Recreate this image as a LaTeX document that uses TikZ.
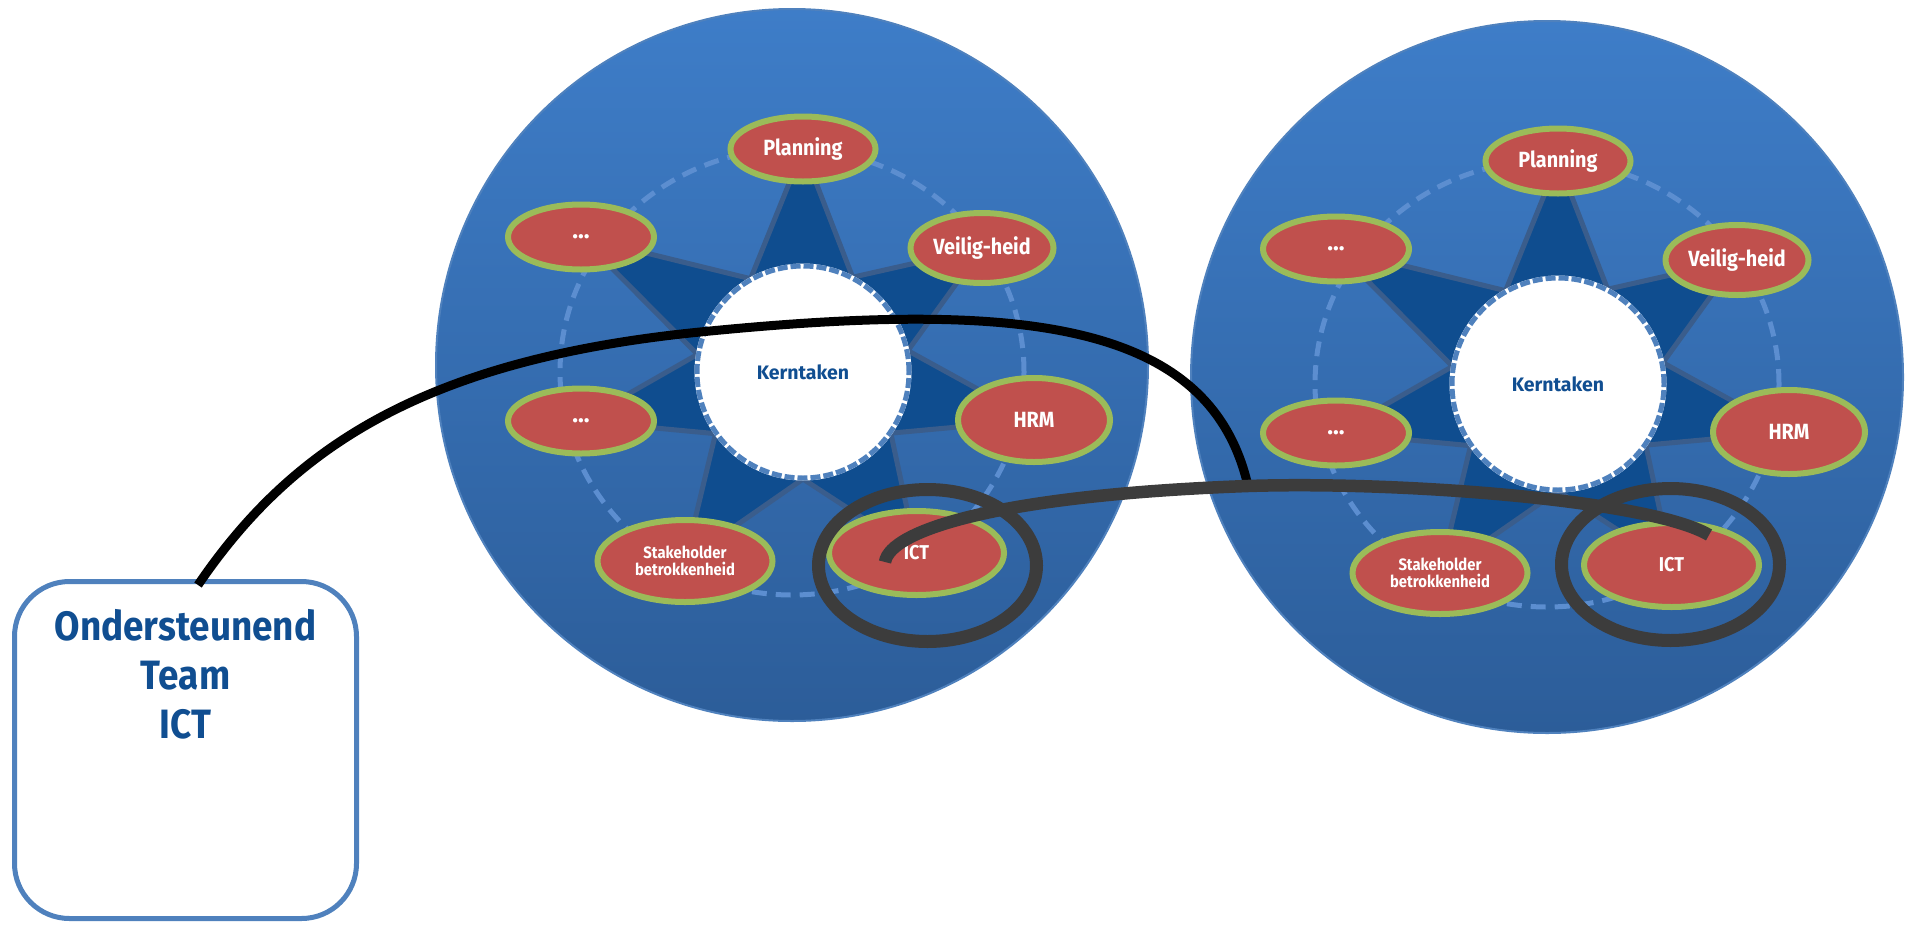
\documentclass[tikz,border=0pt]{standalone}
\usepackage{fontspec}
\newfontfamily\fira{Fira Sans}
\newfontfamily\firac[FakeStretch=0.9]{Fira Sans}
\usetikzlibrary{shapes.geometric,calc}
\definecolor{bigtop}{RGB}{62,125,200}
\definecolor{bigbot}{RGB}{44,93,153}
\definecolor{discedge}{RGB}{79,129,189}
\definecolor{starfill}{RGB}{15,77,143}
\definecolor{staredge}{RGB}{58,93,140}
\definecolor{ringc}{RGB}{92,142,208}
\definecolor{redf}{RGB}{192,80,77}
\definecolor{greenb}{RGB}{155,187,89}
\definecolor{kernedge}{RGB}{79,129,189}
\definecolor{darkblue}{RGB}{16,78,145}
\definecolor{boxedge}{RGB}{79,129,189}
\definecolor{grayc}{RGB}{60,60,60}

\newcommand\mywheel[3]{%
  \node[disc] (#1-disc) at ({792+#2},{365+#3}) {};
  \draw[ringst] ({792+#2},{372+#3}) ellipse [x radius=232pt, y radius=223pt];
  \coordinate (#1-kc) at ({803+#2},{372+#3});
  \coordinate (#1-p1) at ({803+#2},{149+#3});
  \coordinate (#1-p2) at ({982+#2},{248+#3});
  \coordinate (#1-p3) at ({1034+#2},{420+#3});
  \coordinate (#1-p4) at ({916.5+#2},{553+#3});
  \coordinate (#1-p5) at ({685+#2},{561+#3});
  \coordinate (#1-p6) at ({581+#2},{421+#3});
  \coordinate (#1-p7) at ({581+#2},{237+#3});
  \filldraw[starst] (#1-p1) -- ($(#1-kc)+(62.35:107pt)$) -- (#1-p2)
    -- ($(#1-kc)+(11.5:107pt)$) -- (#1-p3) -- ($(#1-kc)+(-34.85:107pt)$)
    -- (#1-p4) -- ($(#1-kc)+(-90:107pt)$) -- (#1-p5)
    -- ($(#1-kc)+(-144.8:107pt)$) -- (#1-p6) -- ($(#1-kc)+(170.55:107pt)$)
    -- (#1-p7) -- ($(#1-kc)+(119.35:107pt)$) -- cycle;
  \node[lab, minimum width=145pt, minimum height=65pt] (#1-plan) at (#1-p1) {Planning};
  \node[lab, minimum width=143pt, minimum height=70pt] (#1-veil) at (#1-p2) {Veilig-heid};
  \node[lab, minimum width=152pt, minimum height=84pt] (#1-hrm) at (#1-p3) {HRM};
  \node[lab, minimum width=175pt, minimum height=84pt, font=\firac\bfseries\fontsize{20}{22}\selectfont] (#1-ict) at (#1-p4) {ICT};
  \node[lab, minimum width=175pt, minimum height=82pt, font=\firac\bfseries\fontsize{16.5}{17.5}\selectfont] (#1-stake) at (#1-p5) {Stakeholder\\betrokkenheid};
  \node[lab, minimum width=146pt, minimum height=65pt, font=\fira\bfseries\fontsize{24}{24}\selectfont] (#1-dotsl) at (#1-p6) {...};
  \node[lab, minimum width=146pt, minimum height=65pt, font=\fira\bfseries\fontsize{24}{24}\selectfont] (#1-dotsu) at (#1-p7) {...};
  \node[kern] (#1-ker) at (#1-kc) {Kerntaken};
}

\begin{document}
\begin{tikzpicture}[x=1pt,y=-1pt,
  disc/.style={circle, inner sep=0pt, outer sep=0pt, minimum size=712pt,
    top color=bigtop, bottom color=bigbot, draw=discedge, line width=2pt},
  ringst/.style={draw=ringc, line width=5pt, dash pattern=on 15pt off 9pt},
  starst/.style={fill=starfill, draw=staredge, line width=5pt, line join=round},
  lab/.style={ellipse, inner sep=0pt, fill=redf, draw=greenb, line width=6pt,
    text=white, align=center, font=\firac\bfseries\fontsize{22}{24}\selectfont},
  kern/.style={circle, inner sep=0pt, minimum size=212pt, fill=white,
    draw=kernedge, line width=5pt, dash pattern=on 10pt off 3pt,
    preaction={draw=white, line width=5pt, solid},
    text=darkblue, font=\fira\bfseries\fontsize{19.5}{21}\selectfont},
  loopst/.style={ellipse, inner sep=0pt, draw=grayc, line width=13pt,
    minimum width=218pt, minimum height=152pt},
  boxst/.style={draw=boxedge, line width=5pt, rounded corners=55pt, fill=white,
    minimum width=342pt, minimum height=337pt, inner sep=0pt, outer sep=0pt},
  boxtxt/.style={text=darkblue, align=center, inner sep=0pt,
    font=\firac\bfseries\fontsize{41}{49}\selectfont},
  blackline/.style={draw=black, line width=9pt},
  grayline/.style={draw=grayc, line width=12.5pt}
]
\useasboundingbox (0,0) rectangle (1906,924);

\mywheel{L}{0}{0}
\mywheel{R}{755}{12}

\node[boxst] (box) at (185.5,750) {};
\node[boxtxt, anchor=north] (boxlabel) at (185.5,609) {Ondersteunend\\Team\\ICT};

\node[loopst] (loopL) at (927.5,565.5) {};
\node[loopst] (loopR) at (1670.5,564.5) {};

\coordinate (J) at (1248,486);
\draw[blackline] ($(box.north)+(12.5,3.5)$) .. controls (290,450) and (420,360) .. (700,332)
  .. controls (1020,300) and (1210,320) .. (J);
\draw[grayline] ($(L-ict)+(-31.5,9)$) .. controls (890,530) and (1000,495) .. (J)
  .. controls (1400,481) and (1650,500) .. ($(R-ict)+(37.5,-30)$);
\end{tikzpicture}
\end{document}
